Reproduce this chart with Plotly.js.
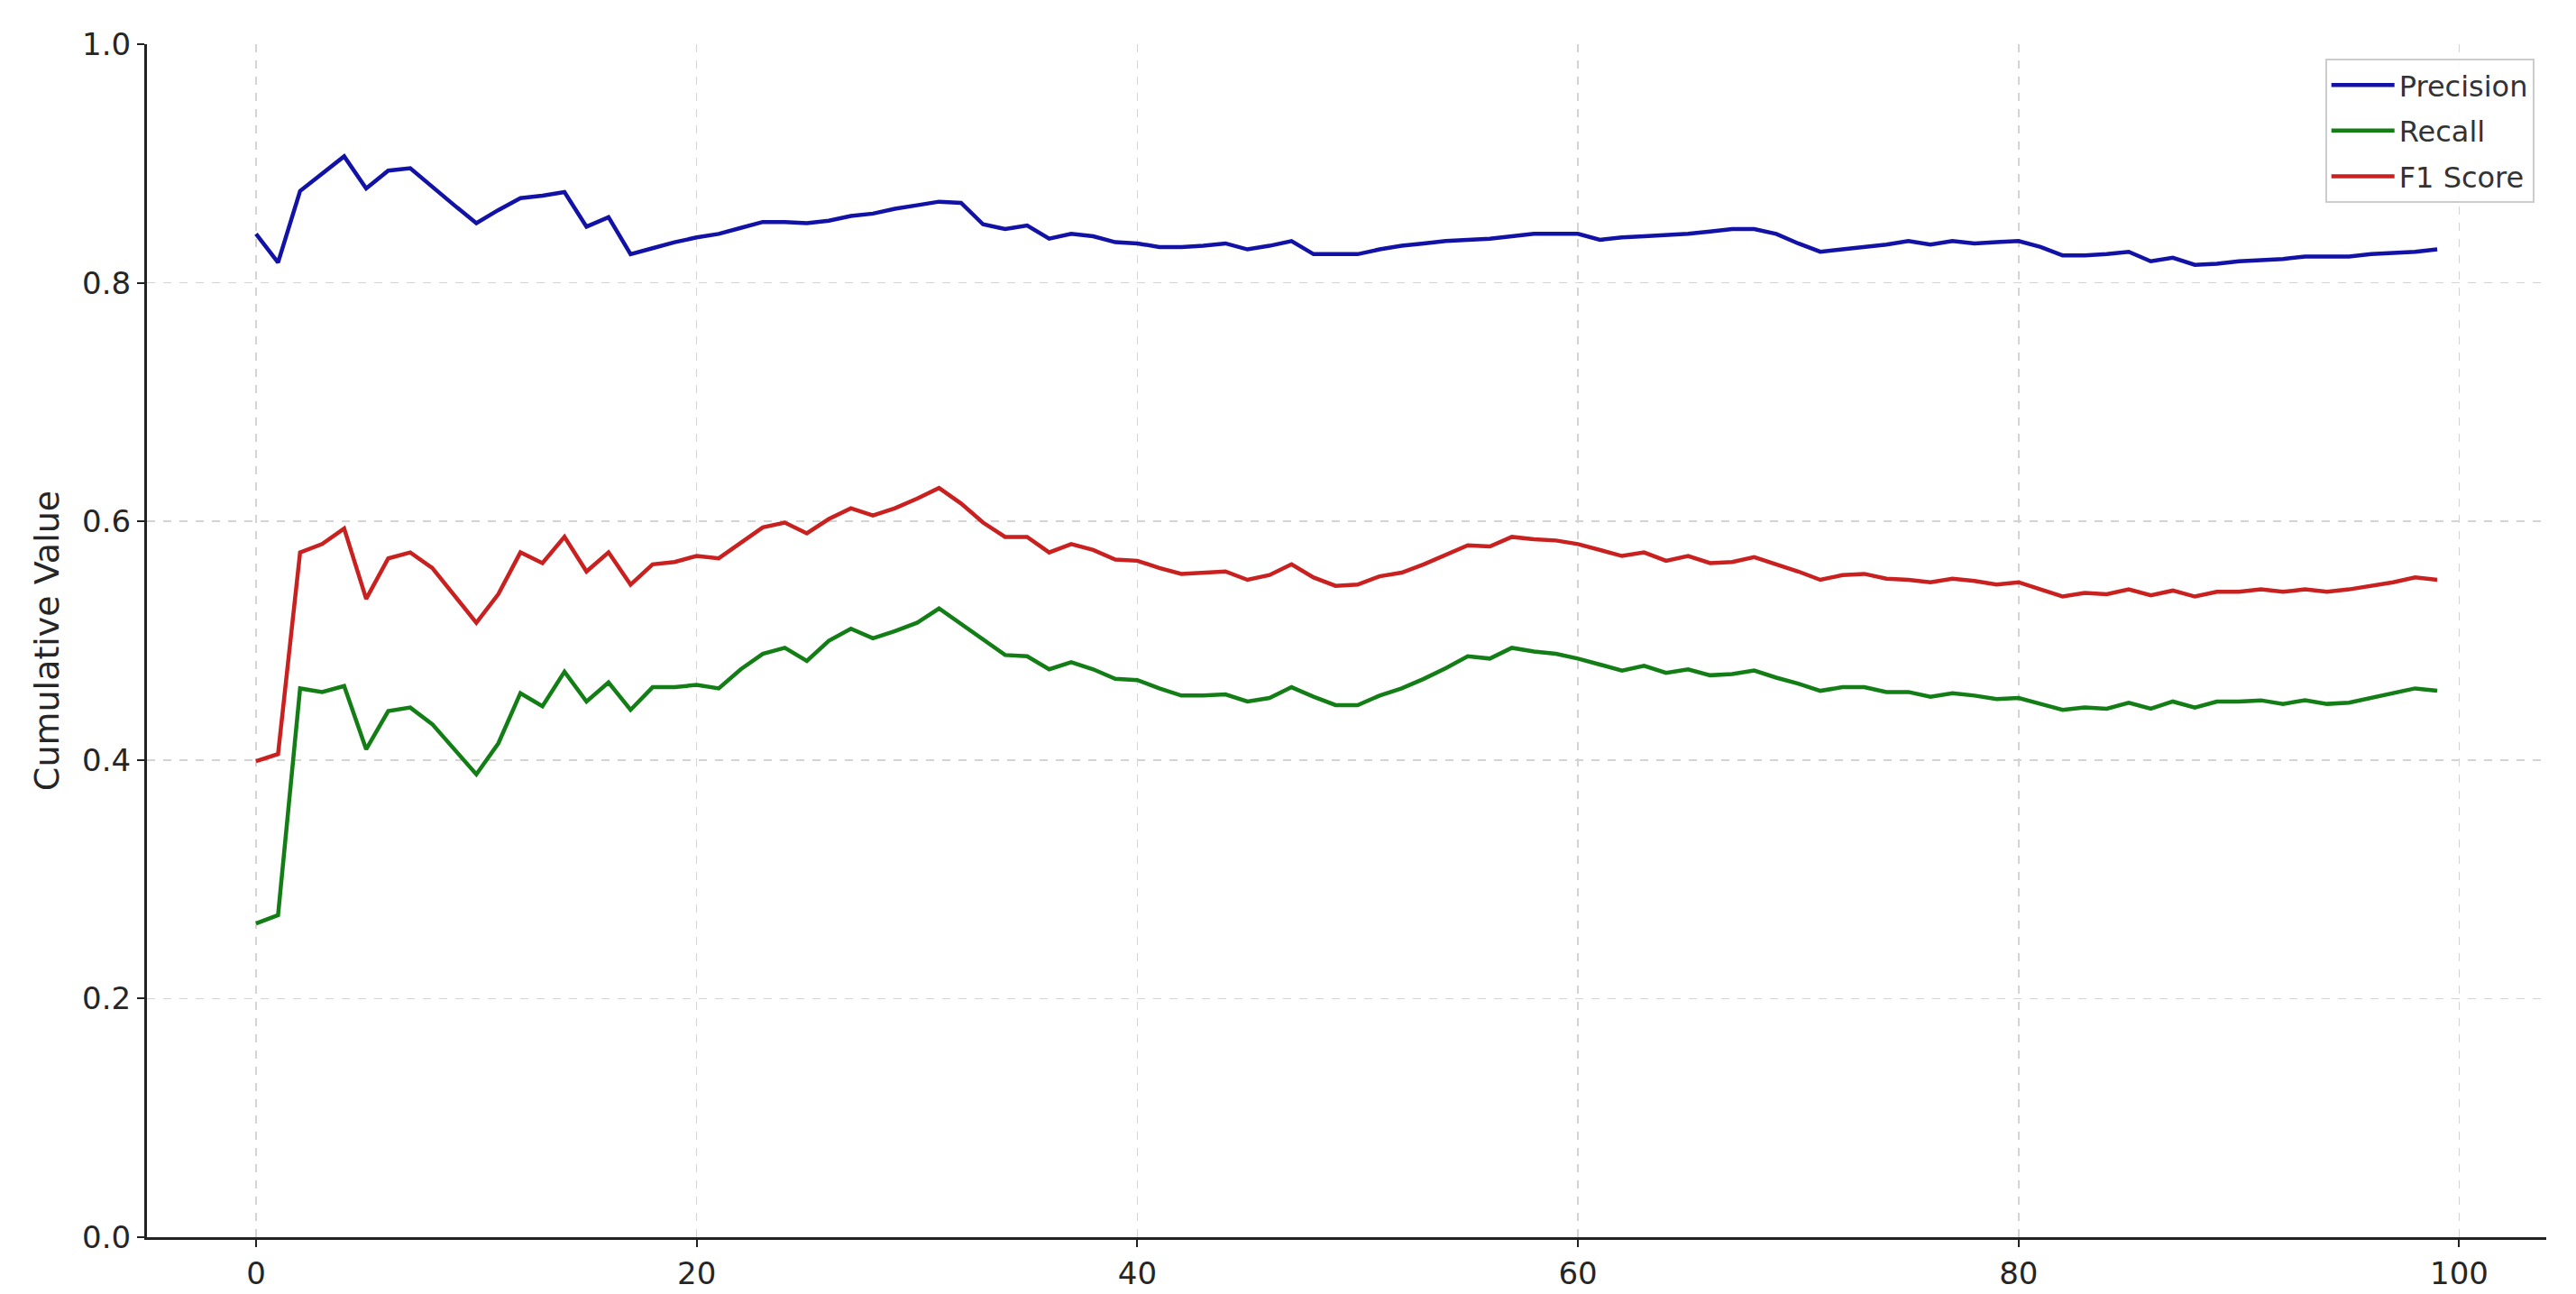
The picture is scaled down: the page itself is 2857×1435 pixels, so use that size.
<!DOCTYPE html>
<html>
<head>
<meta charset="utf-8">
<script src="https://cdn.plot.ly/plotly-3.0.1.min.js"></script>
<style>
html,body{margin:0;padding:0;background:#fff;}
#chart{width:2857px;height:1435px;}
</style>
</head>
<body>
<div id="chart"></div>
<script>
const seriesNames = ["Precision", "Recall", "F1 Score"];

const precision = [
0.841,0.817,0.877,0.891,0.906,0.879,0.894,0.896,0.880,0.865,
0.850,0.861,0.871,0.873,0.876,0.847,0.855,0.824,0.829,0.834,
0.838,0.841,0.846,0.851,0.851,0.850,0.852,0.856,0.858,0.862,
0.865,0.868,0.867,0.849,0.845,0.848,0.837,0.841,0.839,0.834,
0.833,0.830,0.830,0.831,0.833,0.828,0.831,0.835,0.824,0.824,
0.824,0.828,0.831,0.833,0.835,0.836,0.837,0.839,0.841,0.841,
0.841,0.836,0.838,0.839,0.840,0.841,0.843,0.845,0.845,0.841,
0.833,0.826,0.828,0.830,0.832,0.835,0.832,0.835,0.833,0.834,
0.835,0.830,0.823,0.823,0.824,0.826,0.818,0.821,0.815,0.816,
0.818,0.819,0.820,0.822,0.822,0.822,0.824,0.825,0.826,0.828];

const recall = [
0.263,0.270,0.460,0.457,0.462,0.409,0.441,0.444,0.430,0.409,
0.388,0.414,0.456,0.445,0.474,0.449,0.465,0.442,0.461,0.461,
0.463,0.460,0.476,0.489,0.494,0.483,0.500,0.510,0.502,0.508,
0.515,0.527,0.514,0.500,0.488,0.487,0.476,0.482,0.476,0.468,
0.467,0.460,0.454,0.454,0.455,0.449,0.452,0.461,0.453,0.446,
0.446,0.454,0.460,0.468,0.477,0.487,0.485,0.494,0.491,0.489,
0.485,0.480,0.475,0.479,0.473,0.476,0.471,0.472,0.475,0.469,
0.464,0.458,0.461,0.461,0.457,0.457,0.453,0.456,0.454,0.451,
0.452,0.447,0.442,0.444,0.443,0.448,0.443,0.449,0.444,0.449,
0.449,0.450,0.447,0.450,0.447,0.448,0.452,0.456,0.460,0.458];

const f1 = [
0.399,0.405,0.574,0.581,0.594,0.535,0.569,0.574,0.561,0.538,
0.515,0.539,0.574,0.565,0.587,0.558,0.574,0.547,0.564,0.566,
0.571,0.569,0.582,0.595,0.599,0.590,0.602,0.611,0.605,0.611,
0.619,0.628,0.615,0.599,0.587,0.587,0.574,0.581,0.576,0.568,
0.567,0.561,0.556,0.557,0.558,0.551,0.555,0.564,0.553,0.546,
0.547,0.554,0.557,0.564,0.572,0.580,0.579,0.587,0.585,0.584,
0.581,0.576,0.571,0.574,0.567,0.571,0.565,0.566,0.570,0.564,
0.558,0.551,0.555,0.556,0.552,0.551,0.549,0.552,0.550,0.547,
0.549,0.543,0.537,0.540,0.539,0.543,0.538,0.542,0.537,0.541,
0.541,0.543,0.541,0.543,0.541,0.543,0.546,0.549,0.553,0.551];

const steps = precision.map((_, i) => i);
const xTicks = [0, 20, 40, 60, 80, 100];
const yTicks = [0.0, 0.2, 0.4, 0.6, 0.8, 1.0];
const colors = ["#1212a6", "#137d16", "#c92020"];

const values = [precision, recall, f1];
const traces = values.map((v, k) => ({
  x: steps,
  y: v,
  type: "scatter",
  mode: "lines",
  name: seriesNames[k],
  legendgroup: "g" + k,
  line: {color: colors[k], width: 4.5}
}));

const axisFont = {family: "DejaVu Sans, sans-serif", size: 34, color: "#262626"};

const layout = {
  width: 2857,
  height: 1435,
  paper_bgcolor: "#ffffff",
  plot_bgcolor: "#ffffff",
  margin: {l: 163, r: 33, t: 49, b: 63, pad: 0},
  showlegend: true,
  legend: {
    x: 0.995, y: 0.988, xanchor: "right", yanchor: "top",
    bgcolor: "rgba(255,255,255,0.9)",
    bordercolor: "#cccccc", borderwidth: 2,
    tracegroupgap: 6,
    itemwidth: 70,
    font: {family: "DejaVu Sans, sans-serif", size: 32, color: "#333333"}
  },
  xaxis: {
    range: [-4.95, 103.95],
    tickvals: xTicks,
    ticktext: xTicks.map(String),
    showgrid: true, gridcolor: "#d4d4d4", gridwidth: 1.5, griddash: "dash",
    zeroline: false,
    showline: true, linecolor: "#222222", linewidth: 3,
    ticks: "outside", ticklen: 8, tickwidth: 2, tickcolor: "#222222",
    tickfont: axisFont
  },
  yaxis: {
    range: [0, 1],
    tickvals: yTicks,
    ticktext: yTicks.map(v => v.toFixed(1)),
    showgrid: true, gridcolor: "#d4d4d4", gridwidth: 1.5, griddash: "dash",
    zeroline: false,
    showline: true, linecolor: "#222222", linewidth: 3,
    ticks: "outside", ticklen: 8, tickwidth: 2, tickcolor: "#222222",
    tickfont: axisFont,
    title: {text: "Cumulative Value", font: {family: "DejaVu Sans, sans-serif", size: 38, color: "#262626"}, standoff: 14}
  }
};

Plotly.newPlot("chart", traces, layout, {staticPlot: true, displayModeBar: false});
</script>
</body>
</html>
